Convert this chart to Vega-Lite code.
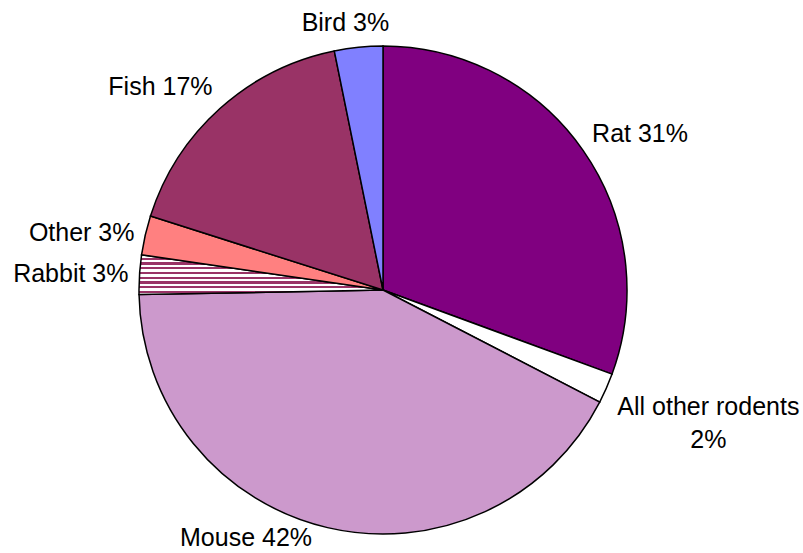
{
  "$schema": "https://vega.github.io/schema/vega-lite/v6.json",
  "width": 488,
  "height": 488,
  "autosize": {"type": "none"},
  "padding": {"left": 139, "top": 46, "right": 176, "bottom": 19},
  "background": "white",
  "config": {"view": {"stroke": null}},
  "data": {
    "values": [
      {"animal": "Rat", "share": 30.6},
      {"animal": "All other rodents", "share": 2.0},
      {"animal": "Mouse", "share": 42.1},
      {"animal": "Rabbit", "share": 2.6},
      {"animal": "Other", "share": 2.6},
      {"animal": "Fish", "share": 16.9},
      {"animal": "Bird", "share": 3.2}
    ]
  },
  "transform": [
    {"calculate": "indexof(['Rat', 'All other rodents', 'Mouse', 'Rabbit', 'Other', 'Fish', 'Bird'], datum.animal)", "as": "slice_order"},
    {"calculate": "datum.animal === 'All other rodents' ? datum.animal + '\\n' + format(datum.share, '.0f') + '%' : datum.animal + ' ' + format(datum.share, '.0f') + '%'", "as": "label"}
  ],
  "encoding": {
    "theta": {"field": "share", "type": "quantitative", "stack": true},
    "order": {"field": "slice_order", "type": "quantitative", "sort": "ascending"}
  },
  "layer": [
    {
      "mark": {"type": "arc", "stroke": "#000000", "strokeWidth": 1.5},
      "encoding": {
        "color": {
          "condition": {
            "test": "datum.animal === 'Rabbit'",
            "value": {
              "gradient": "linear", "x1": 0, "y1": 0, "x2": 0, "y2": 1,
              "stops": [
                {"offset": 0.0, "color": "#ffffff"},
                {"offset": 0.07, "color": "#ffffff"}, {"offset": 0.07, "color": "#993366"},
                {"offset": 0.125, "color": "#993366"}, {"offset": 0.125, "color": "#ffffff"},
                {"offset": 0.19, "color": "#ffffff"}, {"offset": 0.19, "color": "#993366"},
                {"offset": 0.245, "color": "#993366"}, {"offset": 0.245, "color": "#ffffff"},
                {"offset": 0.31, "color": "#ffffff"}, {"offset": 0.31, "color": "#993366"},
                {"offset": 0.365, "color": "#993366"}, {"offset": 0.365, "color": "#ffffff"},
                {"offset": 0.43, "color": "#ffffff"}, {"offset": 0.43, "color": "#993366"},
                {"offset": 0.485, "color": "#993366"}, {"offset": 0.485, "color": "#ffffff"},
                {"offset": 0.55, "color": "#ffffff"}, {"offset": 0.55, "color": "#993366"},
                {"offset": 0.605, "color": "#993366"}, {"offset": 0.605, "color": "#ffffff"},
                {"offset": 0.67, "color": "#ffffff"}, {"offset": 0.67, "color": "#993366"},
                {"offset": 0.725, "color": "#993366"}, {"offset": 0.725, "color": "#ffffff"},
                {"offset": 0.79, "color": "#ffffff"}, {"offset": 0.79, "color": "#993366"},
                {"offset": 0.845, "color": "#993366"}, {"offset": 0.845, "color": "#ffffff"},
                {"offset": 0.91, "color": "#ffffff"}, {"offset": 0.91, "color": "#993366"},
                {"offset": 0.965, "color": "#993366"}, {"offset": 0.965, "color": "#ffffff"},
                {"offset": 1.0, "color": "#ffffff"}
              ]
            }
          },
          "field": "animal",
          "type": "nominal",
          "scale": {
            "domain": ["Rat", "All other rodents", "Mouse", "Rabbit", "Other", "Fish", "Bird"],
            "range": ["#800080", "#ffffff", "#cc99cc", "#ffffff", "#ff8080", "#993366", "#8080ff"]
          },
          "legend": null
        }
      }
    },
    {
      "mark": {
        "type": "text",
        "font": "Liberation Sans",
        "fontSize": 25,
        "color": "#000000",
        "lineBreak": "\n",
        "lineHeight": 33,
        "align": {"expr": "datum.animal === 'All other rodents' ? 'center' : (sin((datum.share_start + datum.share_end) / 100 * PI) > 0.2 ? 'left' : (sin((datum.share_start + datum.share_end) / 100 * PI) < -0.2 ? 'right' : 'center'))"},
        "baseline": {"expr": "cos((datum.share_start + datum.share_end) / 100 * PI) > 0.3 ? 'bottom' : 'middle'"},
        "dx": {"expr": "datum.animal === 'All other rodents' ? 92 : (datum.animal === 'Mouse' ? -13 : (datum.animal === 'Bird' ? -12 : 0))"},
        "dy": {"expr": "datum.animal === 'All other rodents' ? 14 : (datum.animal === 'Rat' ? 3 : 0)"}
      },
      "encoding": {
        "text": {"field": "label", "type": "nominal"},
        "radius": {"value": 255}
      }
    }
  ]
}
